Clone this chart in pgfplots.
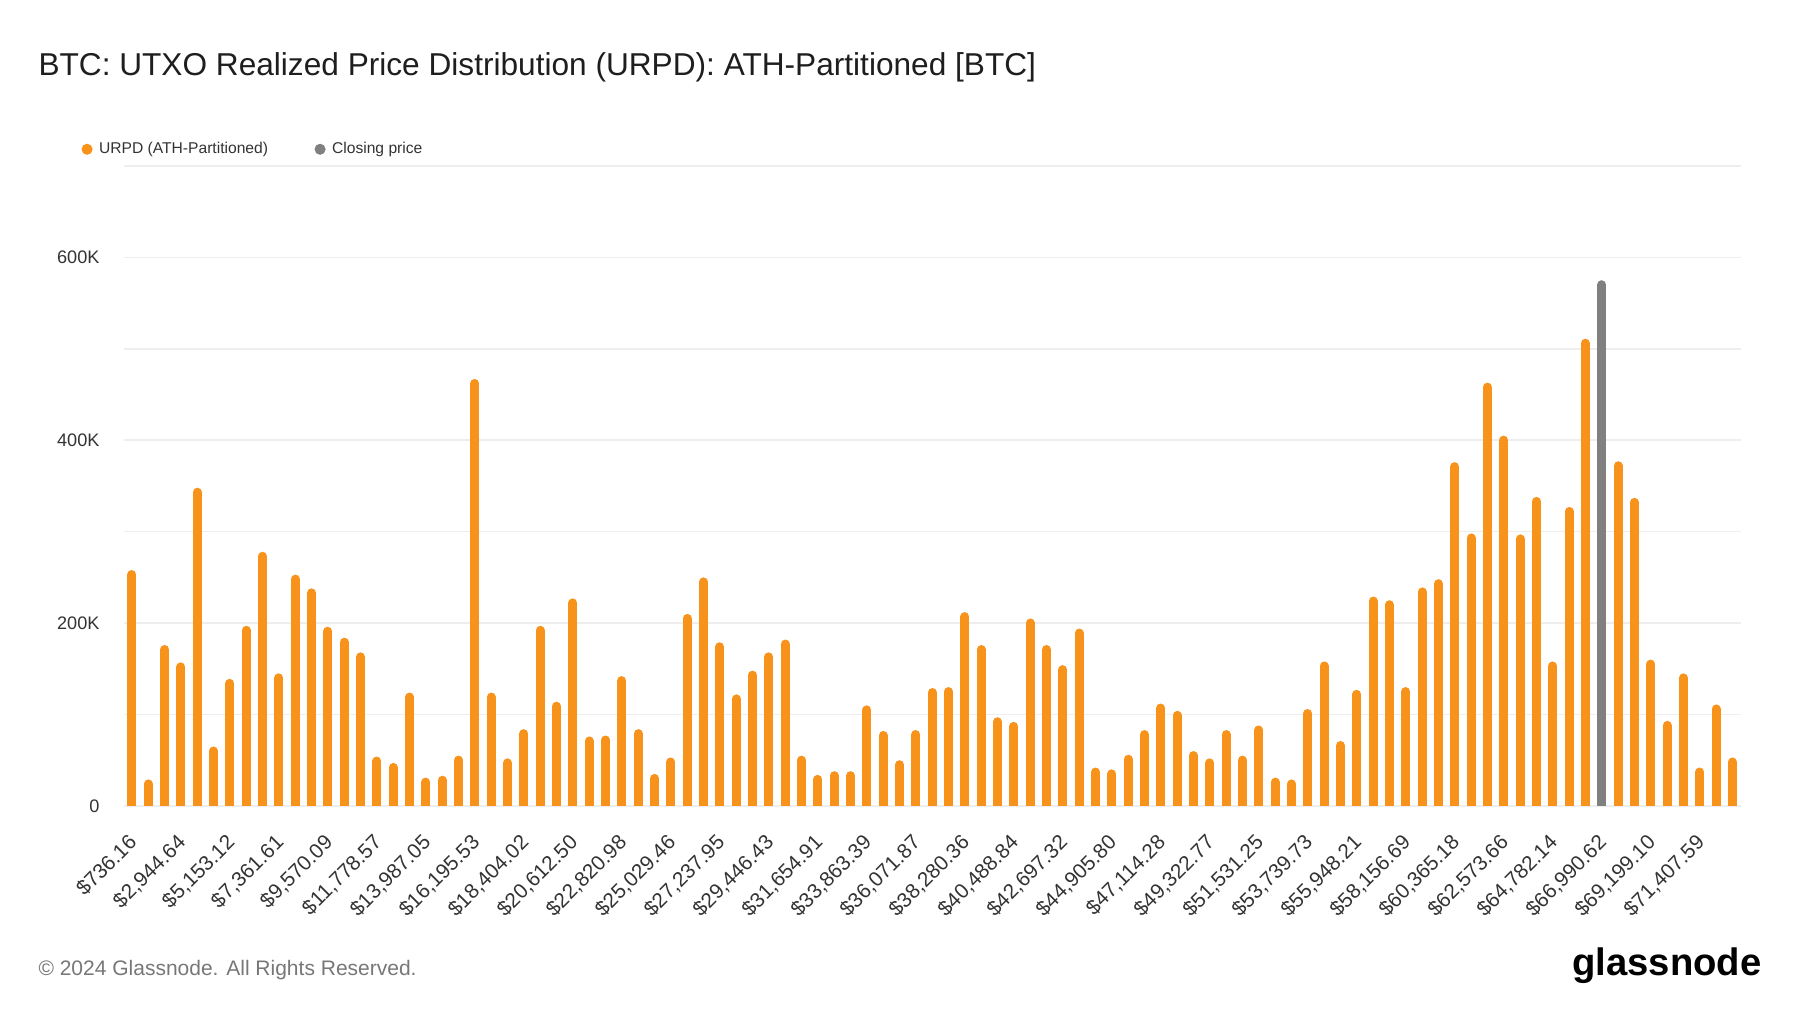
\documentclass[border=0pt]{standalone}
\usepackage{fontspec}
\setmainfont{Liberation Sans}
\usepackage{pgfplots}
\pgfplotsset{compat=1.18}
\usepackage{pgfplotstable}

\definecolor{btcorange}{HTML}{F7931A}
\definecolor{closegray}{HTML}{808080}
\definecolor{gridgray}{HTML}{EEEEEE}
\definecolor{ticktext}{HTML}{333333}
\definecolor{titletext}{HTML}{1E1E1E}
\definecolor{foottext}{HTML}{777777}

\pgfplotstableread{
x y
0 258000
1 29000
2 176000
3 157000
4 348000
5 65000
6 139000
7 197000
8 278000
9 145000
10 253000
11 238000
12 196000
13 184000
14 168000
15 54000
16 47000
17 124000
18 31000
19 33000
20 55000
21 467000
22 124000
23 52000
24 84000
25 197000
26 114000
27 227000
28 76000
29 77000
30 142000
31 84000
32 35000
33 53000
34 210000
35 250000
36 179000
37 122000
38 148000
39 168000
40 182000
41 55000
42 34000
43 38000
44 38000
45 110000
46 82000
47 50000
48 83000
49 129000
50 130000
51 212000
52 176000
53 97000
54 92000
55 205000
56 176000
57 154000
58 194000
59 42000
60 40000
61 56000
62 83000
63 112000
64 104000
65 60000
66 52000
67 83000
68 55000
69 88000
70 31000
71 29000
72 106000
73 158000
74 71000
75 127000
76 229000
77 225000
78 130000
79 239000
80 248000
81 376000
82 298000
83 463000
84 405000
85 297000
86 338000
87 158000
88 327000
89 511000
91 377000
92 337000
93 160000
94 93000
95 145000
96 42000
97 111000
98 53000
}\urpd

\pgfplotstableread{
x y
90 575000
}\closing

\begin{document}
\begin{tikzpicture}
\useasboundingbox (0,0) rectangle (720pt,405.2pt);
\node[anchor=base west, inner sep=0pt, text=titletext, font=\fontsize{12.65}{15}\selectfont] at (15.2pt,374.9pt) {BTC: UTXO Realized Price Distribution (URPD): ATH-Partitioned [BTC]};
\node[anchor=base west, inner sep=0pt, text=foottext, font=\fontsize{8.4}{10}\selectfont] at (15.2pt,14.9pt) {\textcopyright{} 2024 Glassnode. All Rights Reserved.};
\node[anchor=base east, inner sep=0pt, text=black, font=\fontsize{15.3}{18}\selectfont\bfseries] at (704.8pt,15.2pt) {glassnode};
\begin{axis}[
  at={(49.5pt,82.84pt)}, anchor=south west,
  scale only axis, width=646.7pt, height=256pt,
  xmin=-0.5, xmax=98.5, ymin=0, ymax=700000,
  axis line style={draw=none},
  major tick length=0pt,
  ytick={0,100000,200000,300000,400000,500000,600000,700000},
  yticklabels={0,,200K,,400K,,600K,},
  ymajorgrids,
  grid style={color=gridgray, line width=0.6pt},
  scaled y ticks=false,
  xtick={0,3,...,96},
  xticklabels={{\$736.16},{\$2,944.64},{\$5,153.12},{\$7,361.61},{\$9,570.09},{\$11,778.57},{\$13,987.05},{\$16,195.53},{\$18,404.02},{\$20,612.50},{\$22,820.98},{\$25,029.46},{\$27,237.95},{\$29,446.43},{\$31,654.91},{\$33,863.39},{\$36,071.87},{\$38,280.36},{\$40,488.84},{\$42,697.32},{\$44,905.80},{\$47,114.28},{\$49,322.77},{\$51,531.25},{\$53,739.73},{\$55,948.21},{\$58,156.69},{\$60,365.18},{\$62,573.66},{\$64,782.14},{\$66,990.62},{\$69,199.10},{\$71,407.59}},
  xticklabel style={xshift=-2pt, rotate=45, anchor=north east, inner sep=0pt, font=\fontsize{8.3}{10}\selectfont, text=ticktext},
  xticklabel shift=10.5pt,
  yticklabel style={anchor=east, inner sep=0pt, font=\fontsize{7.25}{9}\selectfont, text=ticktext},
  yticklabel shift=9.5pt,
  /pgf/number format/assume math mode=true,
  legend style={draw=none, fill=none, at={(-0.0264,1.026)}, anchor=west, legend columns=2,
    inner xsep=0pt, inner ysep=0pt,
    font=\fontsize{6.25}{7.5}\selectfont, text=ticktext,
    nodes={inner sep=0pt},
    /tikz/every odd column/.append style={column sep=2.6pt},
    /tikz/every even column/.append style={column sep=18.6pt}},
  legend cell align=left,
]
\addlegendimage{legend image code/.code={\fill[btcorange] (2pt,0pt) circle (2pt);}}
\addlegendentry{URPD (ATH-Partitioned)}
\addlegendimage{legend image code/.code={\fill[closegray] (2pt,0pt) circle (2pt);}}
\addlegendentry{Closing price}
\addplot[ycomb, draw=btcorange, line width=3.6pt, line cap=round, yshift=-1.8pt, mark=none, forget plot] table[x=x,y=y]{\urpd};
\addplot[ycomb, draw=closegray, line width=3.6pt, line cap=round, yshift=-1.8pt, mark=none, forget plot] table[x=x,y=y]{\closing};
\end{axis}
\end{tikzpicture}
\end{document}
